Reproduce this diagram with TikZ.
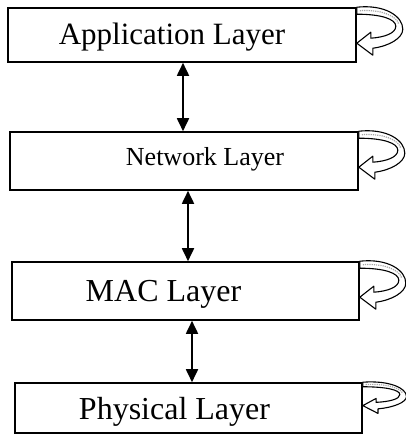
\documentclass[tikz,border=0pt]{standalone}
\usepackage{fontspec}
\setmainfont{Liberation Serif}
\usetikzlibrary{arrows.meta}

\tikzset{
  layerbox/.style={draw, line width=1.6pt, inner sep=0pt},
  layertext/.style={font=\fontsize{#1}{#1}\selectfont},
  updown/.style={line width=1.8pt, {Triangle[length=13pt,width=12pt]}-{Triangle[length=13pt,width=12pt]}},
  pics/selfloop/.style={code={
    % hollow curled arrow leaving the top corner and coming back to the side
    \path[fill=white, draw=black, line width=1.1pt, line join=round]
      (0,0) .. controls (28,-3) and (46,9) .. (46,22)
      .. controls (46,31) and (32,39) .. (16,41)
      -- (16,48) -- (0,36) -- (14,25) -- (14,31)
      .. controls (28,30) and (39,26) .. (39,19)
      .. controls (39,12) and (25,7) .. (0,7) -- cycle;
    \draw[gray!70, line width=1.2pt, densely dotted]
      (3,3.5) .. controls (25,2) and (40,9) .. (42,17);
  }}
}

\begin{document}
\begin{tikzpicture}[x=1pt, y=-1pt]
  \useasboundingbox (0,0) rectangle (406,440);

  % the four protocol layers
  \node[layerbox, minimum width=348pt, minimum height=54pt,
        label={[layertext=31, xshift=-10pt, yshift=-2pt]center:Application Layer}]
        (app) at (182,35) {};
  \node[layerbox, minimum width=348pt, minimum height=58pt,
        label={[layertext=26, xshift=21pt, yshift=2pt]center:Network Layer}]
        (net) at (184,161) {};
  \node[layerbox, minimum width=347pt, minimum height=58pt,
        label={[layertext=32, xshift=-22pt, yshift=-3pt]center:MAC Layer}]
        (mac) at (185.5,291) {};
  \node[layerbox, minimum width=347pt, minimum height=50pt,
        label={[layertext=32, xshift=-14pt, yshift=-4pt]center:Physical Layer}]
        (phy) at (188.5,408) {};

  % two-way links between neighbouring layers
  \draw[updown] (app.south -| 183,0) -- (net.north -| 183,0);
  \draw[updown] (net.south -| 188,0) -- (mac.north -| 188,0);
  \draw[updown] (mac.south -| 192,0) -- (phy.north -| 192,0);

  % each layer's loop back onto itself
  \pic at (app.north east) {selfloop};
  \pic at (net.north east) {selfloop};
  \pic at (mac.north east) {selfloop};
  \pic[yscale=0.65, xscale=0.95] at (phy.north east) {selfloop};
\end{tikzpicture}
\end{document}
